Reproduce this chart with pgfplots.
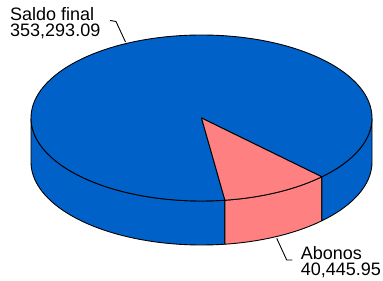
\documentclass[border=0pt]{standalone}
\usepackage{pgfplots}
\pgfplotsset{compat=1.18}
\usepackage{fontspec}
\setmainfont{Liberation Sans}
\definecolor{pieblue}{RGB}{0,98,200}
\definecolor{piepink}{RGB}{255,128,128}
% data
\def\vSaldo{353293.09}
\def\vAbonos{40445.95}
% geometry (axis units = pt)
\def\cx{201.5}\def\cy{163}\def\rx{170.5}\def\ry{83}\def\dep{44}
\def\sA{-82.1}
\edef\spanA{\fpeval{360*\vAbonos/(\vSaldo+\vAbonos)}}
\edef\eA{\fpeval{\sA+\spanA}}
\edef\sAp{\fpeval{\sA+360}}
\tikzset{lbl/.style={anchor=base west, inner sep=0pt, text height=12.5pt, text depth=0.5pt, font=\fontsize{18}{16}\selectfont}}
\begin{document}
\begin{tikzpicture}
\begin{axis}[
  width=383pt, height=281pt, scale only axis,
  xmin=0, xmax=383, ymin=0, ymax=281,
  hide axis, clip=false,
]
% sides
\filldraw[fill=pieblue, draw=black, line width=0.9pt, line join=round]
  (axis cs:{\cx-\rx},{\cy}) arc[start angle=180, end angle=\sAp, x radius=\rx, y radius=\ry]
  -- ++(axis direction cs:0,-\dep) arc[start angle=\sAp, end angle=180, x radius=\rx, y radius=\ry] -- cycle;
\filldraw[fill=piepink, draw=black, line width=0.9pt, line join=round]
  (axis cs:{\cx+\rx*cos(\sA)},{\cy+\ry*sin(\sA)}) arc[start angle=\sA, end angle=\eA, x radius=\rx, y radius=\ry]
  -- ++(axis direction cs:0,-\dep) arc[start angle=\eA, end angle=\sA, x radius=\rx, y radius=\ry] -- cycle;
\filldraw[fill=pieblue, draw=black, line width=0.9pt, line join=round]
  (axis cs:{\cx+\rx*cos(\eA)},{\cy+\ry*sin(\eA)}) arc[start angle=\eA, end angle=0, x radius=\rx, y radius=\ry]
  -- ++(axis direction cs:0,-\dep) arc[start angle=0, end angle=\eA, x radius=\rx, y radius=\ry] -- cycle;
% top
\filldraw[fill=pieblue, draw=black, line width=0.9pt, line join=round]
  (axis cs:\cx,\cy) -- (axis cs:{\cx+\rx*cos(\eA)},{\cy+\ry*sin(\eA)})
  arc[start angle=\eA, end angle=\sAp, x radius=\rx, y radius=\ry] -- cycle;
\filldraw[fill=piepink, draw=black, line width=0.9pt, line join=round]
  (axis cs:\cx,\cy) -- (axis cs:{\cx+\rx*cos(\sA)},{\cy+\ry*sin(\sA)})
  arc[start angle=\sA, end angle=\eA, x radius=\rx, y radius=\ry] -- cycle;
% leaders
\draw[black, line width=0.9pt] (axis cs:110,260.5) -- (axis cs:116,259.5) -- (axis cs:125.5,239);
\draw[black, line width=0.9pt] (axis cs:276.7,42.7) -- (axis cs:286.7,21) -- (axis cs:292.3,21);
% labels
\node[lbl] at (axis cs:10,260) {Saldo final};
\node[lbl] at (axis cs:10,244) {353,293.09};
\node[lbl] at (axis cs:300.7,21) {Abonos};
\node[lbl] at (axis cs:300.7,5) {40,445.95};
\end{axis}
\pgfresetboundingbox
\path (current axis.south west) rectangle (current axis.north east);
\end{tikzpicture}
\end{document}
